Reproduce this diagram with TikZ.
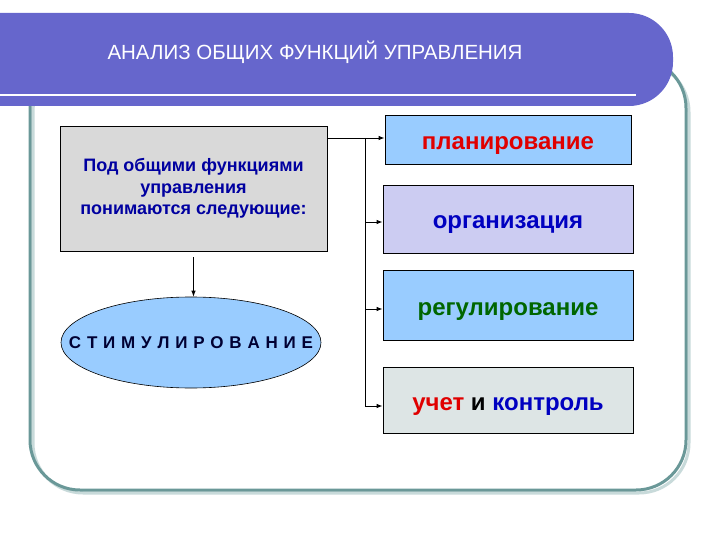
\documentclass[tikz,border=0pt]{standalone}
\usepackage{fontspec}
\setmainfont{Liberation Sans}
\usetikzlibrary{shapes.geometric,arrows.meta}
\definecolor{band}{HTML}{6666CC}
\definecolor{frame}{HTML}{6A9898}
\definecolor{frameshadow}{HTML}{C8DADA}
\definecolor{greybox}{HTML}{D9D9D9}
\definecolor{lightblue}{HTML}{99CCFF}
\definecolor{lavender}{HTML}{CCCCF2}
\definecolor{paleteal}{HTML}{DDE5E5}
\definecolor{navytext}{HTML}{0000A0}
\definecolor{redtext}{HTML}{E00000}
\definecolor{bluetext}{HTML}{0000C0}
\definecolor{greentext}{HTML}{006600}
\definecolor{darknavy}{HTML}{000033}
\newcommand{\lsp}{\hspace{5.8pt}}
\begin{document}
\begin{tikzpicture}[x=1pt,y=-1pt,
  fnbox/.style={draw=black, line width=0.8pt, inner sep=0pt, minimum width=250pt, text height=20pt, text depth=0pt, font=\bfseries\fontsize{24}{28}\selectfont},
  arr/.style={line width=0.9pt, -{Latex[length=6pt,width=4.5pt]}},
  bus/.style={line width=0.9pt}]
\useasboundingbox (0,0) rectangle (720,540);
% frame
\draw[frameshadow, line width=3pt, rounded corners=50pt] (33,62) rectangle (689,493);
\draw[frame, line width=3pt, rounded corners=50pt] (30,58) rectangle (686,490);
% title band
\fill[band, rounded corners=44pt] (-50,13) rectangle (673,106);
\fill[band] (-5,13) rectangle (100,106);
\draw[white, line width=2pt] (0,95) -- (636,95);
\node[text=white, font=\fontsize{20.5}{24}\selectfont] (title) at (315,52) {АНАЛИЗ ОБЩИХ ФУНКЦИЙ УПРАВЛЕНИЯ};
% left box
\node[draw=black, fill=greybox, line width=0.8pt, minimum width=267pt, minimum height=125pt, inner sep=0pt,
  align=center, text=navytext, font=\bfseries\fontsize{18}{21.5}\selectfont] (grey) at (193.5,188.5)
  {Под общими функциями\\управления\\понимаются следующие:};
% ellipse
\node[ellipse, draw=black, fill=lightblue, line width=0.6pt, minimum width=260pt, minimum height=91pt, inner sep=0pt,
  text=darknavy, font=\bfseries\fontsize{17}{20}\selectfont] (ell) at (191,342.5)
  {\makebox[0pt]{С\lsp Т\lsp И\lsp М\lsp У\lsp Л\lsp И\lsp Р\lsp О\lsp В\lsp А\lsp Н\lsp И\lsp Е}};
% right boxes
\node[fnbox, fill=lightblue, minimum width=246pt, minimum height=49pt, text=redtext] (b1) at (508,139.5) {планирование};
\node[fnbox, fill=lavender, minimum height=68pt, text=bluetext] (b2) at (508,219) {организация};
\node[fnbox, fill=lightblue, minimum height=70pt, text=greentext] (b3) at (508,305) {регулирование};
\node[fnbox, fill=paleteal, minimum height=66pt] (b4) at (508,400) {\textcolor{redtext}{учет} и \textcolor{bluetext}{контроль}};
% connectors
\coordinate (c1) at (365,138);
\coordinate (c2) at (365,222);
\coordinate (c3) at (365,309);
\coordinate (c4) at (365,406);
\draw[bus] (grey.east |- c1) -- (c1);
\draw[bus] (c1) -- (c4);
\draw[arr] (c1) -- (c1 -| b1.west);
\draw[arr] (c2) -- (c2 -| b2.west);
\draw[arr] (c3) -- (c3 -| b3.west);
\draw[arr] (c4) -- (c4 -| b4.west);
\draw[arr] ([yshift=-6pt]grey.south) -- (grey.south |- ell.north);
\end{tikzpicture}
\end{document}
